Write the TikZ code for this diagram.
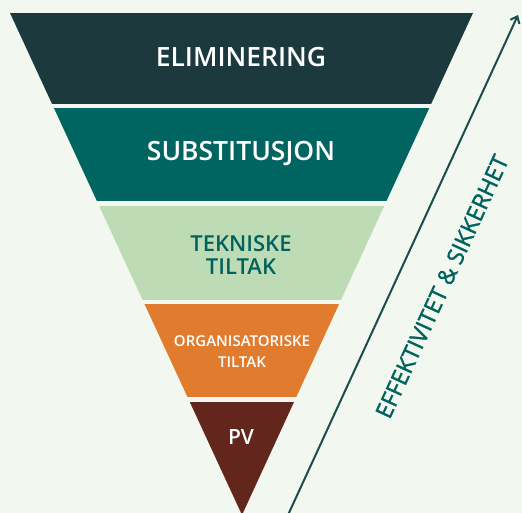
\documentclass[tikz,border=0pt]{standalone}
\usepackage{fontspec}
\setmainfont{Open Sans}
\IfFontExistsTF{Open Sans SemiBold}{%
  \newfontfamily\lblfont{Open Sans SemiBold}%
}{%
  \IfFontExistsTF{Open Sans Semibold}{%
    \newfontfamily\lblfont{Open Sans Semibold}%
  }{%
    \newfontfamily\lblfont{Open Sans}[FakeBold=2.5]%
  }%
}
\newfontfamily\efffont{Open Sans}[FakeBold=1.5]
\usetikzlibrary{arrows.meta}
\definecolor{bg}{HTML}{F2F7F0}
\definecolor{cElim}{HTML}{1C393E}
\definecolor{cSubst}{HTML}{006461}
\definecolor{cTekn}{HTML}{BDDCB5}
\definecolor{cOrg}{HTML}{E17B2E}
\definecolor{cPV}{HTML}{62261D}
\definecolor{cArrow}{HTML}{1B4C4E}
\definecolor{cTxt}{HTML}{00625E}
\tikzset{
  band/.style={draw=none},
  lbl/.style={align=center, inner sep=0pt},
}
\begin{document}
\begin{tikzpicture}[x=1pt,y=1pt]
\fill[bg] (0,0) rectangle (522,513);
\useasboundingbox (0,0) rectangle (522,513);
\begin{scope}
\clip (10,500) -- (473,500) -- (242,-2) -- cycle;
\fill[cElim]  (0,409) rectangle (522,500);
\fill[cSubst] (0,312) rectangle (522,405);
\fill[cTekn]  (0,213) rectangle (522,307);
\fill[cOrg]   (0,116) rectangle (522,209);
\fill[cPV]    (0,-5)  rectangle (522,111);
\end{scope}
\node[lbl, text=white, font=\lblfont\fontsize{26.5}{30}\selectfont] (elim) at (241,456) {ELIMINERING};
\node[lbl, text=white, font=\lblfont\fontsize{26.5}{30}\selectfont] (subst) at (241,359.5) {SUBSTITUSJON};
\node[lbl, text=cTxt, font=\lblfont\fontsize{22}{22.5}\selectfont] (tekn) at (241,258) {TEKNISKE\\TILTAK};
\node[lbl, text=white, font=\lblfont\fontsize{15}{21}\selectfont] (org) at (242,161) {ORGANISATORISKE\\TILTAK};
\node[lbl, text=white, font=\lblfont\fontsize{21}{24}\selectfont] (pv) at (241,76) {PV};
\coordinate (arrS) at (288,-2);
\coordinate (arrE) at (518,498);
\draw[cArrow, line width=2pt, -{Straight Barb[length=6pt,width=10pt,line width=2pt]}] (arrS) -- (arrE);
\node[text=cTxt, font=\efffont\fontsize{23}{24}\selectfont, rotate=65.3, inner sep=0pt] (eff) at (442,226.5) {EFFEKTIVITET \& SIKKERHET};
\end{tikzpicture}
\end{document}
